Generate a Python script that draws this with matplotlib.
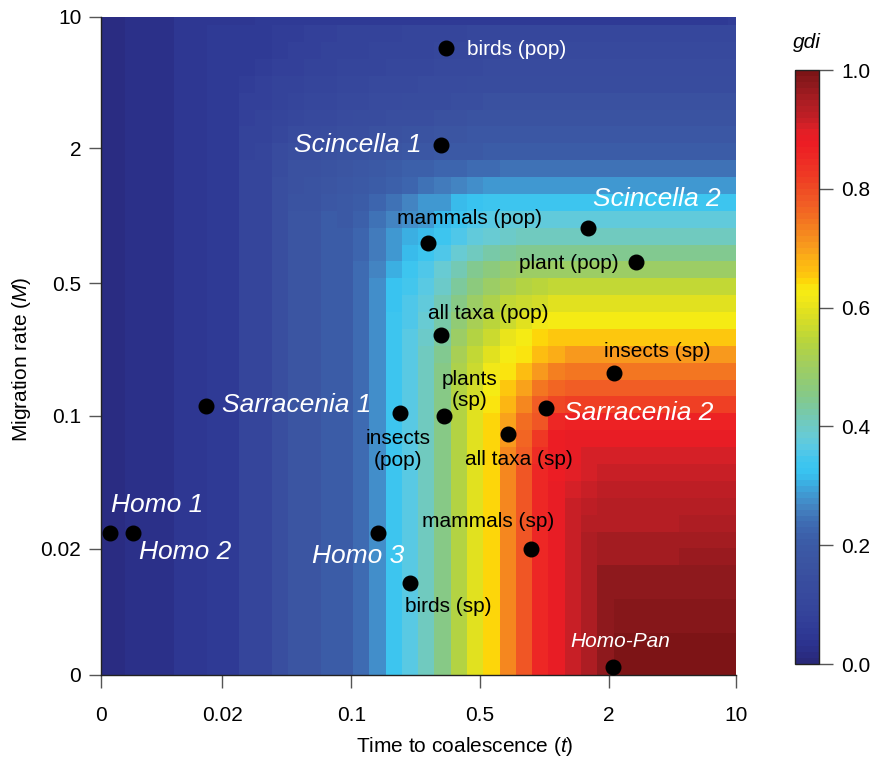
import matplotlib
matplotlib.use("Agg")
import matplotlib.pyplot as plt
import numpy as np
from matplotlib.colors import LinearSegmentedColormap

plt.rcParams['font.family'] = ['Liberation Sans', 'DejaVu Sans']
plt.rcParams['mathtext.fontset'] = 'custom'
plt.rcParams['mathtext.rm'] = 'Liberation Sans'
plt.rcParams['mathtext.it'] = 'Liberation Sans:italic'

# ---------------- data ----------------
# axis tick positions are grid indices (40 grid points 0..39 on each axis)
T_TICK_POS = [0, 7.47, 15.4, 23.3, 31.2, 39]
T_TICK_LABELS = ['0', '0.02', '0.1', '0.5', '2', '10']
M_TICK_POS = [0, 7.47, 15.35, 23.2, 31.2, 39]
M_TICK_LABELS = ['0', '0.02', '0.1', '0.5', '2', '10']

# gdi (x100) on the 40 x 40 grid; rows from M = 0 (bottom) to M = 10 (top),
# columns from t = 0 (left) to t = 10 (right)
GDI_PCT = [
    [1,1,2,2,2,4,4,5,5,9,9,14,17,17,20,20,23,27,33,36,40,45,53,59,64,72,78,85,88,91,94,97,99,99,99,99,99,99,99,99],
    [1,1,2,2,2,4,4,5,5,9,9,14,17,17,20,20,23,27,33,36,40,45,53,59,64,72,78,85,88,91,94,97,99,99,99,99,99,99,99,99],
    [1,1,2,2,2,4,4,5,5,9,9,14,17,17,20,20,23,27,33,36,40,45,53,59,64,72,78,85,88,91,94,97,99,99,99,99,99,99,99,99],
    [1,1,2,2,2,4,4,5,5,9,9,14,17,17,20,20,23,27,33,36,40,45,53,59,64,72,78,85,88,91,94,97] + [98]*8,
    [1,1,2,2,2,4,4,5,5,9,9,14,17,17,20,20,23,27,33,36,40,45,53,59,64,72,78,85,88,91,94,97] + [98]*8,
    [1,1,2,2,2,4,4,5,5,9,9,14,17,17,20,20,23,27,33,36,40,45,53,59,64,72,78,85,88,91,94] + [97]*9,
    [1,1,2,2,2,4,4,5,5,9,9,14,17,17,20,20,23,27,33,36,40,45,53,59,64,72,78,85,88,91,94] + [97]*9,
    [1,1,2,2,2,4,4,5,5,9,9,14,17,17,20,20,23,27,33,36,40,45,53,59,64,72,78,85,88,91,94,95,95,95,95,95,96,96,96,96],
    [1,1,2,2,2,4,4,5,5,9,9,14,17,17,20,20,23,27,33,36,40,45,53,59,64,72,78,85,88,91,94,95,95,95,95,95,95,95,95,95],
    [1,1,2,2,2,4,4,5,5,9,9,14,17,17,20,20,23,27,33,36,40,45,53,59,64,72,78,85,88,91,93,93,93,93,93,93,94,94,94,94],
    [1,1,2,2,2,4,4,5,5,9,9,14,17,17,20,20,23,27,33,36,40,45,53,59,64,72,78,85,88,91,92] + [93]*9,
    [1,1,2,2,2,4,4,5,5,9,9,14,17,17,20,20,23,27,33,36,40,45,53,59,64,72,78,85,88,90,91] + [92]*9,
    [1,1,2,2,2,4,4,5,5,9,9,14,17,17,20,20,23,27,33,36,40,45,53,59,64,72,78,85,87,89,90] + [91]*9,
    [1,1,2,2,2,4,4,5,5,9,9,14,17,17,20,20,23,27,33,36,40,45,53,59,64,72,77,84,87,88] + [90]*10,
    [1,1,2,2,2,4,4,5,5,9,9,14,17,17,20,20,23,27,33,36,40,45,53,59,64,70,76,82,87] + [88]*11,
    [1,1,2,2,2,4,4,5,5,9,9,14,17,17,20,20,23,27,33,36,40,45,53,59,64,69,75,78,85] + [86]*11,
    [1,1,2,2,2,4,4,5,5,9,9,14,17,17,20,20,23,27,33,36,40,45,53,59,63,67,72,77,80] + [81]*11,
    [1,1,2,2,2,4,4,5,5,9,9,14,17,17,20,20,23,27,33,36,40,45,53,58,62,65,69,74,76] + [77]*11,
    [1,1,2,2,2,4,4,5,5,9,9,14,17,17,20,20,23,27,33,36,40,45,52,57,61,63,66,70,73] + [74]*11,
    [1,1,2,2,2,4,4,5,5,9,9,14,17,17,20,20,23,27,33,36,40,44,51,55,59,62,63,66,68] + [70]*11,
    [1,1,2,2,2,4,4,5,5,9,9,14,17,17,20,20,23,27,33,36,39,43,49,53,57,60,62,64] + [65]*12,
    [1,1,2,2,2,4,4,5,5,9,9,14,17,17,20,20,23,27,33,35,38,42,47,51,54,57,59,61] + [62]*12,
    [1,1,2,2,2,4,4,5,5,9,9,14,17,17,20,20,23,27,32,35,37,41,45,49,52,55,57,58] + [59]*12,
    [1,1,2,2,2,4,4,5,5,9,9,14,17,17,20,20,23,27,32,34,36,39,43,46,49,51,53,54] + [55]*12,
    [1,1,2,2,2,4,4,5,5,9,9,14,17,17,20,20,23,26,30,33,35,38,41,44,46,48] + [49]*14,
    [1,1,2,2,2,4,4,5,5,9,9,14,17,17,20,20,22,25,29,31,33,35,38,40,42,43] + [44]*14,
    [1,1,2,2,2,4,4,5,5,9,9,14,17,17,20,20,22,25,28,30,31,33,35,37,38,39] + [40]*14,
    [1,1,2,2,2,4,4,5,5,9,9,14,17,17,20,19,21,24,26,27,29,31,33,35,36] + [37]*15,
    [1,1,2,2,2,4,4,5,5,9,9,14,16,16,18,19,20,22,24,26,28,29,31,32] + [33]*16,
    [1,1,2,2,2,4,4,5,5,9,9,14,15,16,17,18,19,20,21,22,24,25,26,27] + [28]*16,
    [1,1,2,2,2,4,4,5,5,9,9,13,15,15,16,17,18,19,20,21,21,22,22,23,23] + [24]*15,
    [1,1,2,2,2,4,4,5,5,8,9,12,14,14,15,16,16,17,17,18,18,19,19,19] + [20]*16,
    [1,1,2,2,2,4,4,5,5,8,8,10,12,12,13,14,14,15,15,16,16,17,17] + [18]*17,
    [1,1,2,2,2,4,4,5,5,7,8,9,10,11,11,12,13,13,14,14,14,15,15] + [16]*17,
    [1,1,2,2,2,4,4,5,5,7,7,8,9,10,10,11,11,12,12,13,13,13,14,14] + [15]*16,
    [1,1,2,2,2,4,4,5,5,6,7,8,8,9,9,10,10,11,11,11,12,12,12] + [13]*17,
    [1,1,2,2,2,4,4,5,5,5,6,7,7,8,8,9,9,9,10,10,10,11,11,11] + [12]*16,
    [1,1,2,2,2,4,4,5,5,5,5,6,7,7,8,8,8,9,9,9,9,10,10,10,10] + [11]*15,
    [1,1,2,2,2,4,4,5,5,5,5,6,6,7,7,8,8,8,8,9,9,9,9] + [10]*17,
    [1,1,2,2,2,4,4,4,4,4,5] + [5]*28 + [6],
]

# empirical points (positions in grid-index units of t and M)
POINT_NAMES = ['birds (pop)', 'Scincella 1', 'Scincella 2', 'mammals (pop)', 'plant (pop)',
               'all taxa (pop)', 'insects (sp)', 'Sarracenia 1', 'insects (pop)', 'plants (sp)',
               'Sarracenia 2', 'all taxa (sp)', 'Homo 1', 'Homo 2', 'Homo 3', 'mammals (sp)',
               'birds (sp)', 'Homo-Pan']
POINT_T = [21.21, 20.90, 29.93, 20.10, 32.88, 20.90, 31.53, 6.48, 18.39, 21.09,
           27.35, 25.02, 0.58, 1.99, 17.04, 26.43, 19.00, 31.47]
POINT_M = [37.14, 31.40, 26.48, 25.60, 24.47, 20.14, 17.89, 15.94, 15.52, 15.34,
           15.82, 14.28, 8.41, 8.41, 8.41, 7.46, 5.45, 0.47]

# colour scale anchors
CBAR_POS = [0.0, 0.015, 0.03, 0.05, 0.07, 0.10, 0.14, 0.17, 0.20, 0.22, 0.24, 0.26, 0.28,
            0.30, 0.32, 0.34, 0.36, 0.38, 0.40, 0.42, 0.45, 0.48, 0.51, 0.54, 0.56, 0.58,
            0.60, 0.61, 0.63, 0.645, 0.66, 0.68, 0.70, 0.72, 0.74, 0.76, 0.78, 0.80, 0.82,
            0.85, 0.88, 0.90, 0.915, 0.93, 0.95, 0.965, 0.98, 1.0]
CBAR_COL = ['#29297a', '#2a2e86', '#2c338f', '#2f3a95', '#334099', '#36479c', '#394e9f',
            '#3b55a2', '#3b5ba6', '#3d64ad', '#3f70b5', '#4381c0', '#4195cf', '#3cabe0',
            '#38c3f0', '#3fc6ef', '#56c8e6', '#66cbd6', '#6ecac4', '#76c9ad', '#85c98a',
            '#94cc70', '#a5ce5a', '#b5d43f', '#c6d932', '#d7dd27', '#e3e21d', '#eee61a',
            '#f7ec13', '#fdd80a', '#fdc20f', '#fcb414', '#f99f1c', '#f68d1e', '#f47d20',
            '#f26b22', '#f15b25', '#ef4e24', '#ef3d24', '#ee2c25', '#ec1c24', '#e21f26',
            '#cc2027', '#bc1e25', '#ad1d23', '#9e1b20', '#8e191d', '#7d1416']

# ---------------- figure ----------------
cmap = LinearSegmentedColormap.from_list('gdi', list(zip(CBAR_POS, CBAR_COL)), N=100)

fig = plt.figure(figsize=(8.78, 7.62), dpi=100)
ax = fig.add_axes([0.1147, 0.1142, 0.7232, 0.8639])

Z = np.array(GDI_PCT, dtype=float) / 100.0
edges = np.arange(Z.shape[1] + 1) - 0.5
mesh = ax.pcolormesh(edges, edges, Z, cmap=cmap, vmin=0, vmax=1, shading='flat')
ax.set_xlim(0, 39)
ax.set_ylim(0, 39)

for s in ['top', 'right']:
    ax.spines[s].set_visible(False)
for s in ['left', 'bottom']:
    ax.spines[s].set_color('#222222')
    ax.spines[s].set_linewidth(1.0)

ax.set_xticks(T_TICK_POS)
ax.set_xticklabels(T_TICK_LABELS)
ax.set_yticks(M_TICK_POS)
ax.set_yticklabels(M_TICK_LABELS)
ax.tick_params(axis='both', direction='out', length=9, width=1, color='#555555',
               labelsize=15, labelcolor='black')
ax.tick_params(axis='x', pad=13)
ax.tick_params(axis='y', pad=5)

xl = ax.set_xlabel('Time to coalescence ($\\it{t}$)', fontsize=15)
xl.set_va('center')
ax.xaxis.set_label_coords(0.574, -0.109)
yl = ax.set_ylabel('Migration rate ($\\it{M}$)', fontsize=15)
yl.set_va('center')
ax.yaxis.set_label_coords(-0.124, 0.48)

ax.plot(POINT_T, POINT_M, 'o', color='black', markersize=10.5, clip_on=False, zorder=5)

# labels
LAB = {
    'birds (pop)':   (22.5, 37.03, 'left', 'white', 'normal', 15),
    'Scincella 1':   (19.74, 31.4, 'right', 'white', 'italic', 19),
    'Scincella 2':   (34.17, 28.2, 'center', 'white', 'italic', 19),
    'mammals (pop)': (22.68, 27.07, 'center', 'black', 'normal', 15),
    'plant (pop)':   (31.84, 24.35, 'right', 'black', 'normal', 15),
    'all taxa (pop)': (20.1, 21.39, 'left', 'black', 'normal', 15),
    'insects (sp)':  (34.17, 19.14, 'center', 'black', 'normal', 15),
    'Sarracenia 1':  (7.45, 16.0, 'left', 'white', 'italic', 19),
    'insects\n(pop)': (18.26, 13.36, 'center', 'black', 'normal', 15),
    'plants\n(sp)':  (22.68, 16.88, 'center', 'black', 'normal', 15),
    'Sarracenia 2':  (28.45, 15.52, 'left', 'white', 'italic', 19),
    'all taxa (sp)': (25.7, 12.74, 'center', 'black', 'normal', 15),
    'Homo 1':        (0.64, 10.07, 'left', 'white', 'italic', 19),
    'Homo 2':        (2.36, 7.29, 'left', 'white', 'italic', 19),
    'Homo 3':        (15.8, 7.05, 'center', 'white', 'italic', 19),
    'mammals (sp)':  (23.8, 9.12, 'center', 'black', 'normal', 15),
    'birds (sp)':    (21.33, 4.03, 'center', 'black', 'normal', 15),
    'Homo-Pan':      (31.9, 2.01, 'center', 'white', 'italic', 15),
}
for txt, (x, y, ha, col, sty, fs) in LAB.items():
    ax.text(x, y, txt, ha=ha, va='center', color=col, style=sty, fontsize=fs,
            multialignment='center', linespacing=1.15, zorder=6)

# colour bar
cax = fig.add_axes([0.9055, 0.1286, 0.0273, 0.7795])
cb = fig.colorbar(mesh, cax=cax, ticks=[0, 0.2, 0.4, 0.6, 0.8, 1.0])
cb.ax.set_yticklabels(['0.0', '0.2', '0.4', '0.6', '0.8', '1.0'])
cb.outline.set_edgecolor('#222222')
cb.outline.set_linewidth(1.0)
cax.tick_params(direction='out', length=10, width=1, color='#555555', labelsize=15, pad=6)
cax.text(0.5, 1.047, 'gdi', transform=cax.transAxes, ha='center', va='center',
         style='italic', fontsize=15)

fig.savefig('out.png', dpi=100)
